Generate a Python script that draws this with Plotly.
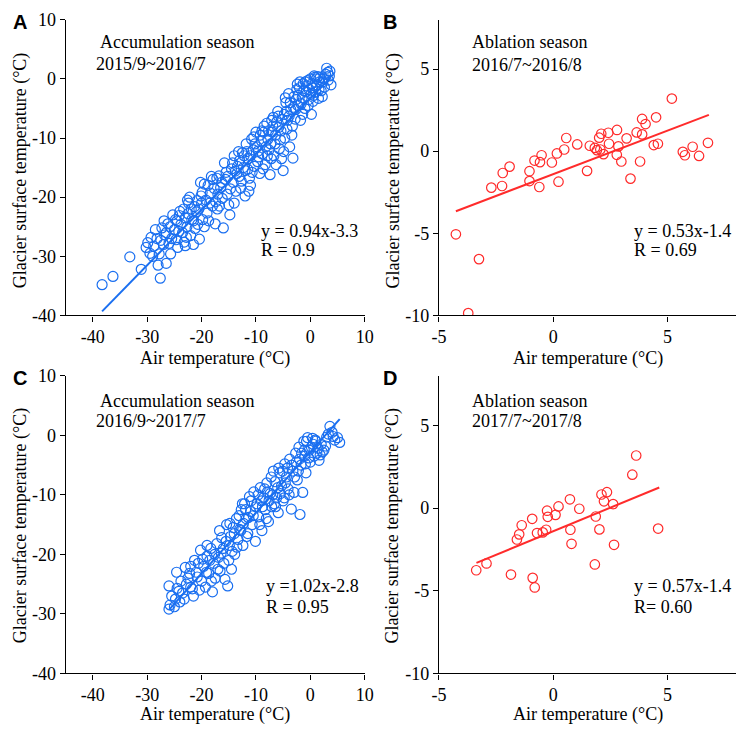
import plotly.graph_objects as go

# ---------------- data ----------------
# Panel A: accumulation season 2015/9~2016/7  (air temp, glacier surface temp)
a_pts = [
    (-38.3, -34.8), (-36.3, -33.4), (-33.2, -30.1), (-31.1, -32.2), (-27.6, -33.7), (-28.0, -31.5),
    (-26.5, -31.2), (-29.9, -27.7), (-29.5, -29.5), (-28.8, -28.3), (-28.2, -27.0), (-27.8, -29.6),
    (-27.3, -25.2), (-26.8, -26.4), (-26.2, -24.5), (-26.0, -27.8), (-25.7, -29.6), (-25.3, -23.0),
    (-25.0, -25.5), (-24.7, -27.2), (-24.4, -28.5), (-24.0, -22.4), (-23.8, -24.6), (-23.5, -26.0),
    (-23.2, -27.6), (-23.0, -23.5), (-22.7, -25.0), (-22.4, -21.0), (-22.2, -20.0), (-22.0, -26.5),
    (-21.8, -23.8), (-21.5, -28.0), (-21.2, -25.3), (-21.0, -22.5), (-20.7, -24.6), (-20.4, -27.1),
    (-20.2, -17.5), (-20.0, -21.0), (-19.8, -23.8), (-19.5, -17.8), (-19.2, -20.5), (-19.0, -22.7),
    (-18.7, -24.0), (-18.4, -19.3), (-18.2, -16.5), (-18.0, -21.5), (-17.7, -18.5), (-17.4, -20.8),
    (-17.1, -22.0), (-16.8, -16.4), (-16.5, -18.4), (-16.2, -20.2), (-16.0, -25.2), (-15.8, -14.2),
    (-15.6, -17.0), (-15.3, -19.5), (-15.0, -21.3), (-14.8, -23.0), (-14.5, -15.2), (-14.2, -17.5),
    (-14.0, -13.0), (-13.7, -19.0), (-13.4, -14.8), (-13.1, -16.5), (-12.8, -18.5), (-12.5, -12.5),
    (-12.3, -15.0), (-12.0, -19.8), (-11.8, -11.0), (-11.5, -13.5), (-11.2, -16.8), (-11.0, -18.0),
    (-10.8, -10.2), (-10.5, -12.0), (-10.3, -14.8), (-10.0, -9.0), (-9.8, -11.5), (-9.5, -13.2),
    (-9.3, -16.0), (-9.0, -10.5), (-8.8, -12.7), (-8.5, -8.0), (-8.3, -14.5), (-8.0, -7.5),
    (-7.8, -10.2), (-7.6, -12.0), (-7.4, -16.2), (-7.2, -13.5), (-7.0, -9.0), (-6.8, -6.5),
    (-6.5, -11.0), (-6.3, -14.5), (-6.0, -5.5), (-5.8, -8.2), (-5.5, -10.3), (-5.3, -13.5),
    (-5.0, -15.5), (-4.8, -6.0), (-4.5, -4.0), (-4.3, -8.5), (-4.0, -2.5), (-3.8, -11.5),
    (-3.6, -5.2), (-3.4, -9.5), (-3.2, -13.4), (-3.0, -3.0), (-2.8, -6.8), (-2.5, -1.8),
    (-2.3, -4.5), (-2.0, -1.5), (-1.8, -7.0), (-1.5, -3.2), (-1.3, -0.8), (-1.0, -5.0),
    (-0.8, -2.2), (-0.5, -0.3), (-0.3, -3.5), (0.0, 0.0), (0.2, -6.0), (0.4, -1.5),
    (0.6, -2.8), (0.9, 0.3), (1.2, -1.0), (1.5, -3.3), (1.8, 0.2), (2.0, -2.0),
    (2.3, -0.5), (2.6, -1.4), (3.0, 1.8), (3.2, 1.1), (3.5, 0.5), (3.8, -1.0), (2.8, 0.8),
    (-30.2, -28.5), (-29.0, -30.0), (-27.0, -28.0), (-26.5, -26.0), (-25.5, -27.0), (-24.8, -23.8),
    (-24.2, -25.8), (-23.0, -28.2), (-22.5, -22.8), (-21.5, -24.0), (-20.8, -20.6), (-19.5, -25.0),
    (-18.8, -18.0), (-17.5, -24.5), (-17.0, -19.5), (-16.7, -21.5), (-15.5, -15.8), (-14.7, -18.6),
    (-14.0, -21.0), (-13.5, -16.0), (-13.0, -13.8), (-12.7, -17.3), (-12.0, -15.5), (-11.7, -12.3),
    (-11.3, -19.0), (-10.7, -15.8), (-10.2, -11.0), (-9.7, -14.0), (-9.2, -9.5), (-8.7, -15.2),
    (-8.2, -11.5), (-7.7, -8.8), (-7.3, -11.0), (-6.7, -13.0), (-6.2, -7.3), (-5.7, -11.8),
    (-5.2, -6.8), (-4.7, -10.0), (-4.2, -7.0), (-3.7, -4.0), (-3.3, -8.0), (-2.7, -5.2),
    (-2.2, -2.8), (-1.7, -4.2), (-1.2, -2.0), (-0.7, -1.2), (-0.2, -1.8), (0.3, -0.8),
    (0.7, 0.5), (1.0, -2.2), (1.4, 0.4), (1.7, -0.5), (2.2, -3.0), (2.5, 0.0), (3.3, -0.2),
    (3.6, 1.3), (-28.5, -25.5), (-27.5, -27.3), (-25.8, -25.0), (-24.5, -24.0), (-23.3, -22.0),
    (-22.8, -26.8), (-21.3, -21.6), (-20.5, -22.0), (-19.9, -19.2), (-18.5, -21.0), (-17.9, -17.0),
    (-16.3, -17.5), (-15.2, -16.5), (-14.3, -14.2), (-13.2, -12.3), (-12.2, -13.0), (-11.5, -15.3),
    (-10.4, -9.8), (-9.6, -12.2), (-8.6, -9.0), (-7.9, -13.0), (-7.1, -7.0), (-6.4, -9.5),
    (-5.9, -6.3), (-5.4, -8.8), (-4.9, -12.3), (-4.4, -5.5), (-3.9, -6.3), (-3.1, -4.8),
    (-2.6, -3.5), (-1.9, -0.5), (-1.4, -6.0), (-0.9, -0.5), (-0.4, -4.5), (0.5, -3.8), (1.1, 0.0),
    (-29.3, -26.8), (-26.9, -24.0), (-24.1, -23.1), (-22.6, -20.5), (-21.9, -22.0), (-20.1, -19.8),
    (-17.2, -16.8), (-13.8, -15.6), (-11.0, -13.0), (-8.9, -8.8), (-6.9, -8.0), (-4.6, -3.2),
    (-2.4, -0.9), (0.1, -2.6), (1.6, -1.8),
]
a_slope, a_icpt, a_xends = 0.94, -3.3, [-38.3, 3.8]

# Panel C: accumulation season 2016/9~2017/7
c_pts = [
    (-26.0, -29.2), (-25.8, -28.5), (-26.0, -25.3), (-24.5, -25.7), (-24.8, -27.5), (-24.0, -28.0),
    (-23.5, -26.5), (-23.0, -22.2), (-22.5, -24.0), (-22.0, -25.5), (-21.5, -27.0), (-21.0, -23.0),
    (-20.6, -21.5), (-20.2, -19.3), (-20.0, -24.5), (-19.6, -22.0), (-19.3, -25.5), (-19.0, -20.3),
    (-18.7, -23.2), (-18.3, -19.0), (-18.0, -26.3), (-17.8, -21.5), (-17.5, -24.0), (-17.2, -18.2),
    (-16.9, -20.5), (-16.6, -22.8), (-16.3, -17.2), (-16.0, -19.0), (-15.7, -24.2), (-15.4, -15.0),
    (-15.2, -25.3), (-15.0, -21.0), (-14.7, -17.0), (-14.4, -19.5), (-14.2, -15.5), (-13.9, -20.0),
    (-13.6, -14.0), (-13.3, -17.5), (-13.0, -15.8), (-12.7, -12.5), (-12.4, -18.5), (-12.1, -11.5),
    (-11.8, -14.0), (-11.5, -16.5), (-11.2, -10.3), (-11.0, -12.8), (-10.7, -15.0), (-10.4, -9.5),
    (-10.1, -17.8), (-9.8, -11.5), (-9.5, -13.7), (-9.2, -8.8), (-8.9, -16.0), (-8.6, -10.5),
    (-8.3, -12.5), (-8.0, -8.0), (-7.7, -14.5), (-7.4, -9.8), (-7.1, -12.0), (-6.8, -6.0),
    (-6.5, -7.8), (-6.2, -10.5), (-5.9, -13.0), (-5.6, -6.3), (-5.3, -8.5), (-5.0, -11.0),
    (-4.7, -4.8), (-4.4, -7.0), (-4.1, -9.0), (-3.8, -4.0), (-3.5, -12.4), (-3.2, -6.0),
    (-3.0, -9.6), (-2.7, -3.0), (-2.4, -7.5), (-2.1, -2.0), (-1.9, -13.3), (-1.7, -5.0),
    (-1.4, -9.6), (-1.2, -1.0), (-1.0, -3.5), (-0.8, -6.3), (-0.5, -0.4), (-0.2, -2.5),
    (0.0, -4.5), (0.5, -1.5), (0.9, -0.8), (1.2, -3.0), (1.6, -4.2), (2.0, -1.5),
    (2.5, -2.5), (3.0, -0.3), (3.6, 1.5), (4.0, 0.5), (4.5, -0.8), (5.0, -0.4), (5.4, -1.2),
    (-25.5, -27.0), (-25.0, -28.8), (-24.2, -26.2), (-23.8, -24.5), (-23.2, -27.5), (-22.8, -25.0),
    (-22.2, -23.2), (-21.7, -25.8), (-21.3, -21.0), (-20.8, -23.8), (-20.4, -26.0), (-19.8, -20.8),
    (-19.1, -23.0), (-18.5, -21.0), (-18.2, -24.5), (-17.6, -20.0), (-17.0, -22.5), (-16.4, -19.8),
    (-15.9, -21.5), (-15.5, -17.8), (-14.9, -18.5), (-14.5, -22.5), (-14.0, -16.5), (-13.5, -18.8),
    (-13.1, -13.5), (-12.8, -16.0), (-12.3, -14.8), (-11.9, -12.5), (-11.4, -13.8), (-10.9, -11.0),
    (-10.5, -13.5), (-10.0, -12.0), (-9.6, -10.0), (-9.3, -15.0), (-8.8, -12.0), (-8.4, -9.0),
    (-8.1, -14.0), (-7.6, -11.0), (-7.2, -7.0), (-6.9, -10.0), (-6.4, -12.0), (-6.0, -8.8),
    (-5.5, -9.8), (-5.1, -6.0), (-4.6, -8.0), (-4.2, -5.5), (-3.9, -10.0), (-3.4, -5.0),
    (-2.9, -7.0), (-2.6, -4.5), (-2.2, -6.0), (-1.6, -3.0), (-1.1, -2.5), (-0.7, -1.0),
    (-0.3, -3.8), (0.2, -2.0), (0.7, -3.5), (1.0, -1.0), (1.4, -2.2), (2.2, -2.8),
    (2.8, -1.8), (3.3, 0.2), (4.2, -0.2), (-24.6, -23.0), (-22.0, -22.0), (-19.0, -18.5),
    (-16.7, -16.0), (-14.8, -14.8), (-12.5, -11.5), (-11.7, -17.0), (-9.0, -11.0), (-7.9, -9.5),
    (-6.6, -11.5), (-5.8, -5.5), (-4.8, -10.5), (-2.0, -4.0), (-0.9, -4.8), (0.4, -0.5), (1.8, -3.3),
]
c_slope, c_icpt, c_xends = 1.02, -2.8, [-26.0, 5.4]

# Panel B: ablation season 2016/7~2016/8
b_pts = [
    (-4.26, -5.06), (-3.72, -9.86), (-3.25, -6.57), (-2.71, -2.22), (-2.24, -2.12), (-2.21, -1.33),
    (-1.91, -0.94), (-1.04, -1.22), (-1.04, -1.82), (-0.82, -0.57), (-0.61, -2.18), (-0.58, -0.67),
    (-0.51, -0.25), (-0.06, -0.69), (0.16, -0.14), (0.23, -1.86), (0.48, 0.10), (0.57, 0.80),
    (1.05, 0.41), (1.48, -1.20), (1.60, 0.33), (1.82, 0.20), (1.91, 0.06), (2.01, 0.82),
    (2.06, 0.10), (2.10, 1.06), (2.20, -0.18), (2.41, 1.12), (2.44, 0.45), (2.79, 1.29),
    (2.85, 0.29), (2.78, -0.22), (2.98, -0.63), (3.21, 0.78), (3.38, -1.67), (3.65, 1.14),
    (3.89, 1.96), (3.89, 1.02), (3.80, -0.63), (4.04, 1.65), (4.40, 0.37), (4.50, 2.06),
    (4.58, 0.45), (5.19, 3.20), (5.67, -0.04), (5.76, -0.25), (6.10, 0.27), (6.38, -0.29),
    (6.77, 0.51),
]
b_slope, b_icpt, b_xends = 0.53, -1.4, [-4.26, 6.81]

# Panel D: ablation season 2017/7~2017/8
d_pts = [
    (-3.37, -3.76), (-2.92, -3.35), (-1.85, -4.02), (-1.59, -1.90), (-1.49, -1.59), (-1.38, -1.04),
    (-0.92, -0.65), (-0.90, -4.22), (-0.81, -4.80), (-0.71, -1.51), (-0.46, -1.47), (-0.31, -1.31),
    (-0.27, -0.16), (-0.24, -0.53), (0.10, -0.41), (0.23, 0.10), (0.73, 0.53), (0.75, -1.31),
    (0.80, -2.16), (1.14, -0.04), (1.82, -3.41), (1.86, -0.51), (2.02, -1.29), (2.11, 0.82),
    (2.22, 0.41), (2.35, 0.96), (2.62, 0.24), (2.66, -2.22), (3.46, 2.02), (3.63, 3.18),
    (4.59, -1.24),
]
d_slope, d_icpt, d_xends = 0.57, -1.4, [-3.36, 4.64]

acc_xticks = [-40, -30, -20, -10, 0, 10]
acc_yticks = [-40, -30, -20, -10, 0, 10]
abl_xticks = [-5, 0, 5]
abl_yticks = [-10, -5, 0, 5]

BLUE = "#1a6ff0"
RED = "#ff2b2b"
W, H = 748, 735
SERIF = "Liberation Serif, Times New Roman, serif"

fig = go.Figure()

panels = [
    (a_pts, a_slope, a_icpt, a_xends, BLUE, 10, ""),
    (b_pts, b_slope, b_icpt, b_xends, RED, 9.5, "2"),
    (c_pts, c_slope, c_icpt, c_xends, BLUE, 10, "3"),
    (d_pts, d_slope, d_icpt, d_xends, RED, 9.5, "4"),
]
for pts, s, i0, xe, col, ms, sfx in panels:
    xs = [p[0] for p in pts]
    ys = [p[1] for p in pts]
    fig.add_trace(go.Scatter(
        x=xs, y=ys, mode="markers", xaxis="x" + sfx, yaxis="y" + sfx,
        marker=dict(symbol="circle-open", size=ms, color=col, line=dict(width=1.2, color=col)),
        showlegend=False, hoverinfo="skip"))
    fig.add_trace(go.Scatter(
        x=xe, y=[s * v + i0 for v in xe], mode="lines", xaxis="x" + sfx, yaxis="y" + sfx,
        line=dict(color=col, width=2), showlegend=False, hoverinfo="skip"))


def px_x(p):
    return p / W


def px_y(p):
    return 1 - p / H


def ax(domain, rng, ticks, anchor):
    return dict(
        domain=domain, range=rng, anchor=anchor,
        tickvals=ticks, ticktext=[str(t) for t in ticks],
        showline=True, linecolor="black", linewidth=1.3,
        ticks="outside", ticklen=5, tickwidth=1.3, tickcolor="black",
        showgrid=False, zeroline=False, mirror=False,
        tickfont=dict(family=SERIF, size=18, color="black"),
    )


xl = [px_x(59), px_x(365)]
xr = [px_x(441), px_x(745)]
yt = [px_y(314), px_y(10)]
yb = [px_y(682), px_y(376)]

fig.update_layout(
    width=W, height=H, margin=dict(l=0, r=0, t=0, b=0),
    paper_bgcolor="white", plot_bgcolor="white",
    font=dict(family=SERIF, size=18, color="black"),
    xaxis=ax(xl, [-45, 10], acc_xticks, "y"),
    yaxis=ax(yt, [-40, 10], acc_yticks, "x"),
    xaxis2=ax(xr, [-5, 8], abl_xticks, "y2"),
    yaxis2=ax(yt, [-10, 8], abl_yticks, "x2"),
    xaxis3=ax(xl, [-45, 10], acc_xticks, "y3"),
    yaxis3=ax(yb, [-40, 10], acc_yticks, "x3"),
    xaxis4=ax(xr, [-5, 8], abl_xticks, "y4"),
    yaxis4=ax(yb, [-10, 8], abl_yticks, "x4"),
)

ann = []


def txt(x, y, t, size=18, xanchor="left", family=SERIF, angle=0, bold=False):
    ann.append(dict(
        x=px_x(x), y=px_y(y), xref="paper", yref="paper", text=("<b>%s</b>" % t) if bold else t,
        showarrow=False, xanchor=xanchor, yanchor="middle", textangle=angle,
        font=dict(family=family, size=size, color="black")))


# panel letters
for lx, ly, lt in [(3, 12, "A"), (382, 12, "B"), (3, 378, "C"), (382, 378, "D")]:
    txt(lx, ly, lt, size=20, family="Liberation Sans, Arial, sans-serif", bold=True)

# y-axis titles
for cx, cy in [(13, 165), (394, 165), (13, 530), (394, 530)]:
    txt(cx, cy, "Glacier surface temperature (°C)", size=18, xanchor="center", angle=-90)

# x-axis titles
for cx, cy in [(212, 358), (593, 358), (212, 724), (593, 724)]:
    txt(cx, cy, "Air temperature (°C)", size=18, xanchor="center")

# season labels
txt(92, 33, "Accumulation season")
txt(88, 55, "2015/9~2016/7")
txt(473, 33, "Ablation season")
txt(473, 57, "2016/7~2016/8")
txt(92, 402, "Accumulation season")
txt(88, 423, "2016/9~2017/7")
txt(473, 402, "Ablation season")
txt(473, 423, "2017/7~2017/8")

# regression equations
txt(257, 227, "y = 0.94x-3.3")
txt(257, 247, "R = 0.9")
txt(638, 227, "y = 0.53x-1.4")
txt(638, 247, "R = 0.69")
txt(262, 592, "y =1.02x-2.8")
txt(262, 614, "R = 0.95")
txt(638, 592, "y = 0.57x-1.4")
txt(638, 614, "R= 0.60")

fig.update_layout(annotations=ann)

fig.write_html("out.html")
